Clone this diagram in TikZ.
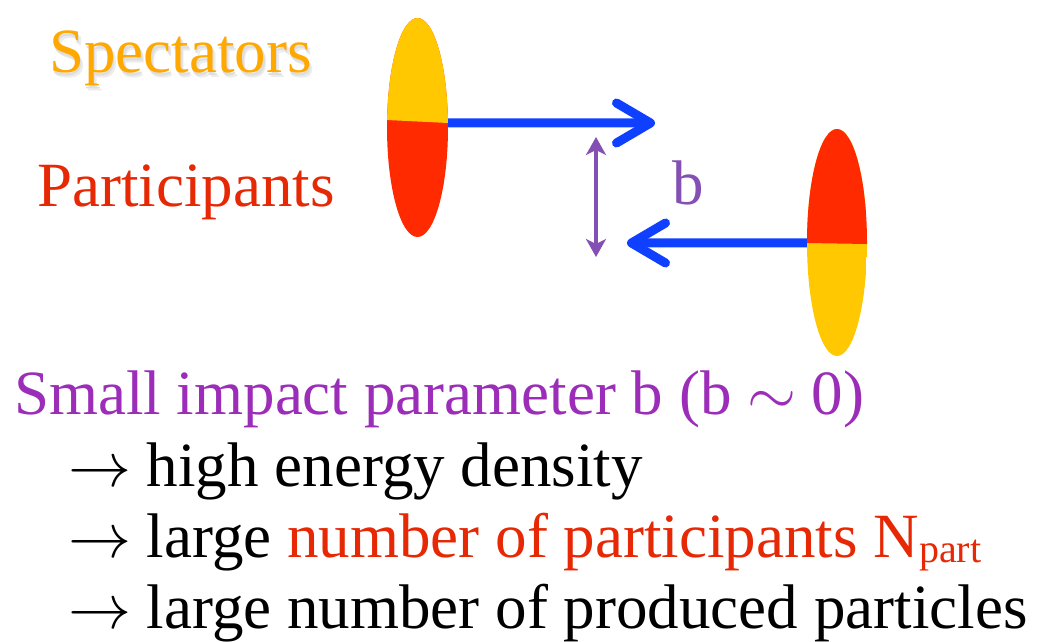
\documentclass[tikz,border=0pt]{standalone}
\usepackage{fix-cm}
\usepackage{fontspec}
\setmainfont{Liberation Serif}
\usetikzlibrary{arrows.meta,shapes.geometric}
\definecolor{specor}{RGB}{255,168,0}
\definecolor{shadowA}{RGB}{236,236,236}
\definecolor{shadowB}{RGB}{222,222,222}
\definecolor{partred}{RGB}{230,40,5}
\definecolor{titlepurple}{RGB}{155,45,185}
\definecolor{bpurple}{RGB}{132,80,180}
\definecolor{nucyel}{RGB}{255,200,0}
\definecolor{nucred}{RGB}{255,42,0}
\definecolor{beamblue}{RGB}{16,64,255}
\newcommand{\myarr}{\ensuremath{\rightarrow}}
\newcommand{\bigtxt}[1]{\scalebox{1.575}{\fontsize{40bp}{44bp}\selectfont #1}}
\newcommand{\subtxt}[1]{\raisebox{-3.8bp}{\fontsize{25.4bp}{28bp}\selectfont #1}}
\begin{document}
\begin{tikzpicture}[x=1bp,y=-1bp,
  txt/.style={inner sep=0pt, anchor=base west},
  nucleus/.style={ellipse, inner sep=0pt, draw=none},
  beam/.style={draw=beamblue, line width=9bp, -{Straight Barb[length=34bp,width=40bp,round]}},
  bspan/.style={draw=bpurple, line width=3.2bp, {Stealth[length=18bp,width=20bp,inset=5bp]}-{Stealth[length=18bp,width=20bp,inset=5bp]}}
]
\useasboundingbox (0,0) rectangle (1047,642);

% labels (soft shadow drawn with plain light greys)
\node[txt, text=shadowA] (specsh1) at (52,78) {\bigtxt{Spectators}};
\node[txt, text=shadowB] (specsh2) at (50.5,76) {\bigtxt{Spectators}};
\node[txt, text=specor] (spec) at (49,73) {\bigtxt{Spectators}};
\node[txt, text=partred] (part) at (37,207) {\bigtxt{Participants}};

% nuclei
\node[nucleus, minimum width=61bp, minimum height=219bp,
  path picture={
    \fill[nucred] (path picture bounding box.north west) rectangle (path picture bounding box.south east);
    \fill[nucyel] (path picture bounding box.north west) -- (path picture bounding box.north east)
      -- ([yshift=4.5bp]path picture bounding box.east) -- ([yshift=7.5bp]path picture bounding box.west) -- cycle;
  }] (e1) at (417.5,127.5) {};
\node[nucleus, minimum width=60bp, minimum height=227bp,
  path picture={
    \fill[nucyel] (path picture bounding box.north west) rectangle (path picture bounding box.south east);
    \fill[nucred] (path picture bounding box.north west) -- (path picture bounding box.north east)
      -- ([yshift=-1.5bp]path picture bounding box.east) -- ([yshift=-0.5bp]path picture bounding box.west) -- cycle;
  }] (e2) at (837,242.5) {};

% beams
\coordinate (t1) at (655,123);
\coordinate (t2) at (627,243);
\draw[beam] ([yshift=4.5bp]e1.east) -- (t1);
\draw[beam] ([yshift=-0.5bp]e2.west) -- (t2);

% impact parameter
\coordinate (d1) at (596,137);
\coordinate (d2) at (596,257);
\draw[bspan] (d1) -- (d2);
\node[txt, text=bpurple] (b) at (672,205) {\bigtxt{b}};

% text
\node[txt, text=titlepurple] (l1) at (14,414) {\bigtxt{Small impact parameter b (b \ensuremath{\sim} 0)}};
\node[txt] (l2) at (68,486) {\bigtxt{\myarr{} high energy density}};
\node[txt] (l3) at (68,557) {\bigtxt{\myarr{} large \textcolor{partred}{number of participants N\subtxt{part}}}};
\node[txt] (l4) at (68,628) {\bigtxt{\myarr{} large number of produced particles}};
\end{tikzpicture}
\end{document}
